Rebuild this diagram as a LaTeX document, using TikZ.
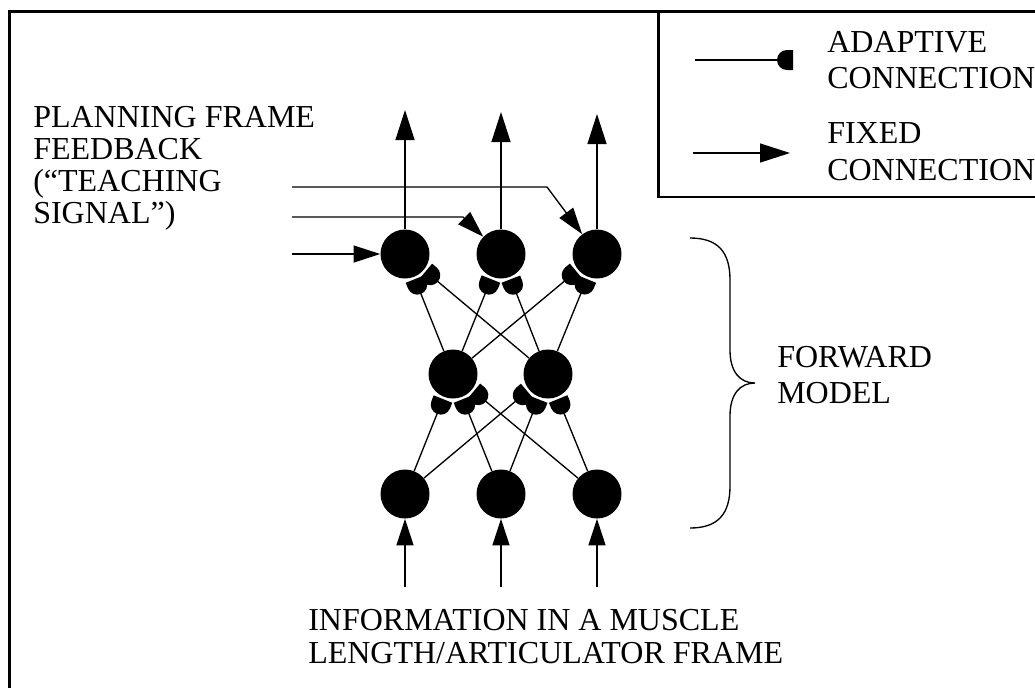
\documentclass[tikz,border=0pt]{standalone}
\usepackage{fontspec}
\setmainfont{Liberation Serif}
\usetikzlibrary{arrows.meta,calc}
\newcommand\adaptconn[2]{%
  \path let \p1=($(#1)-(#2)$), \n1={atan2(\y1,\x1)} in \pgfextra{\xdef\synang{\n1}};
  \begin{scope}[shift={(#2)}, rotate=\synang]
    \fill (27,-10) -- (33,-10) arc[start angle=-90, end angle=90, radius=7.5pt] -- (27,10) -- cycle;
    \draw[conn] (42.5,0) -- (#1);
  \end{scope}}
\begin{document}
\begin{tikzpicture}[x=0.75pt,y=0.75pt,
  neuron/.style={circle,fill=black,inner sep=0pt,minimum size=36.75pt},
  conn/.style={line width=1pt},
  fixed/.style={conn,-{Triangle[length=20pt,width=12.75pt]}},
  fixedL/.style={conn,-{Triangle[length=22.5pt,width=14.25pt]}},
  frame/.style={line width=2.1pt},
  lbl/.style={inner sep=0pt,anchor=base west,align=left,font=\fontsize{24}{#1}\selectfont},
]
\useasboundingbox (0,0) rectangle (1035,-687);
\begin{scope}
\clip (0,0) rectangle (1035,-687);
% outer frame and legend box
\draw[frame] (9.5,-700) -- (9.5,-11.5) -- (1050,-11.5);
\draw[frame] (658.5,-11.5) -- (658.5,-197) -- (1050,-197);
\end{scope}

% neurons
\node[neuron] (b1) at (405,-494) {};
\node[neuron] (b2) at (501,-494) {};
\node[neuron] (b3) at (597,-494) {};
\node[neuron] (m1) at (453,-374) {};
\node[neuron] (m2) at (548,-374) {};
\node[neuron] (t1) at (405,-254) {};
\node[neuron] (t2) at (501,-254) {};
\node[neuron] (t3) at (597,-254) {};

% adaptive connections
\adaptconn{b1}{m1}
\adaptconn{b2}{m1}
\adaptconn{b3}{m1}
\adaptconn{b1}{m2}
\adaptconn{b2}{m2}
\adaptconn{b3}{m2}
\adaptconn{m1}{t1}
\adaptconn{m2}{t1}
\adaptconn{m1}{t2}
\adaptconn{m2}{t2}
\adaptconn{m1}{t3}
\adaptconn{m2}{t3}

% outputs
\coordinate (o1) at (405,-110);
\coordinate (o2) at (501,-112);
\coordinate (o3) at (597,-114);
\draw[fixedL] (t1) -- (o1);
\draw[fixedL] (t2) -- (o2);
\draw[fixedL] (t3) -- (o3);

% inputs
\coordinate (i1) at (405,-587);
\coordinate (i2) at (501,-587);
\coordinate (i3) at (597,-587);
\draw[fixed] (i1) -- (b1);
\draw[fixed] (i2) -- (b2);
\draw[fixed] (i3) -- (b3);

% teaching signal
\coordinate (f1) at (292,-187);
\coordinate (k1) at (547,-187);
\coordinate (f2) at (292,-217);
\coordinate (k2) at (463,-217);
\coordinate (f3) at (292,-254);
\draw[fixed] (f1) -- (k1) -- (t3);
\draw[fixed] (f2) -- (k2) -- (t2);
\draw[fixed] (f3) -- (t1);

% brace
\draw[conn] (690,-238) .. controls (718,-238) and (730,-252) .. (730,-280) -- (730,-350)
  .. controls (730,-372) and (740,-383) .. (755,-383)
  .. controls (740,-383) and (730,-394) .. (730,-416) -- (730,-486)
  .. controls (730,-514) and (718,-528) .. (690,-528);

% legend
\coordinate (la1) at (695,-60);
\coordinate (la2) at (820,-60);
\adaptconn{la1}{la2}
\coordinate (lf1) at (693,-153);
\coordinate (lf2) at (790,-153);
\draw[fixedL] (lf1) -- (lf2);

% labels (anchored at the baseline of the last line)
\node[lbl=26.5pt] (tadapt) at (827,-88) {ADAPTIVE\\CONNECTION};
\node[lbl=27.5pt] (tfixed) at (827,-180) {FIXED\\CONNECTION};
\node[lbl=23.8pt] (tplan) at (33,-223) {PLANNING FRAME\\FEEDBACK\\(“TEACHING\\SIGNAL”)};
\node[lbl=27pt] (tfwd) at (777,-403) {FORWARD\\MODEL};
\node[lbl=24.75pt] (tinfo) at (308,-663) {INFORMATION IN A MUSCLE\\LENGTH/ARTICULATOR FRAME};
\end{tikzpicture}
\end{document}
